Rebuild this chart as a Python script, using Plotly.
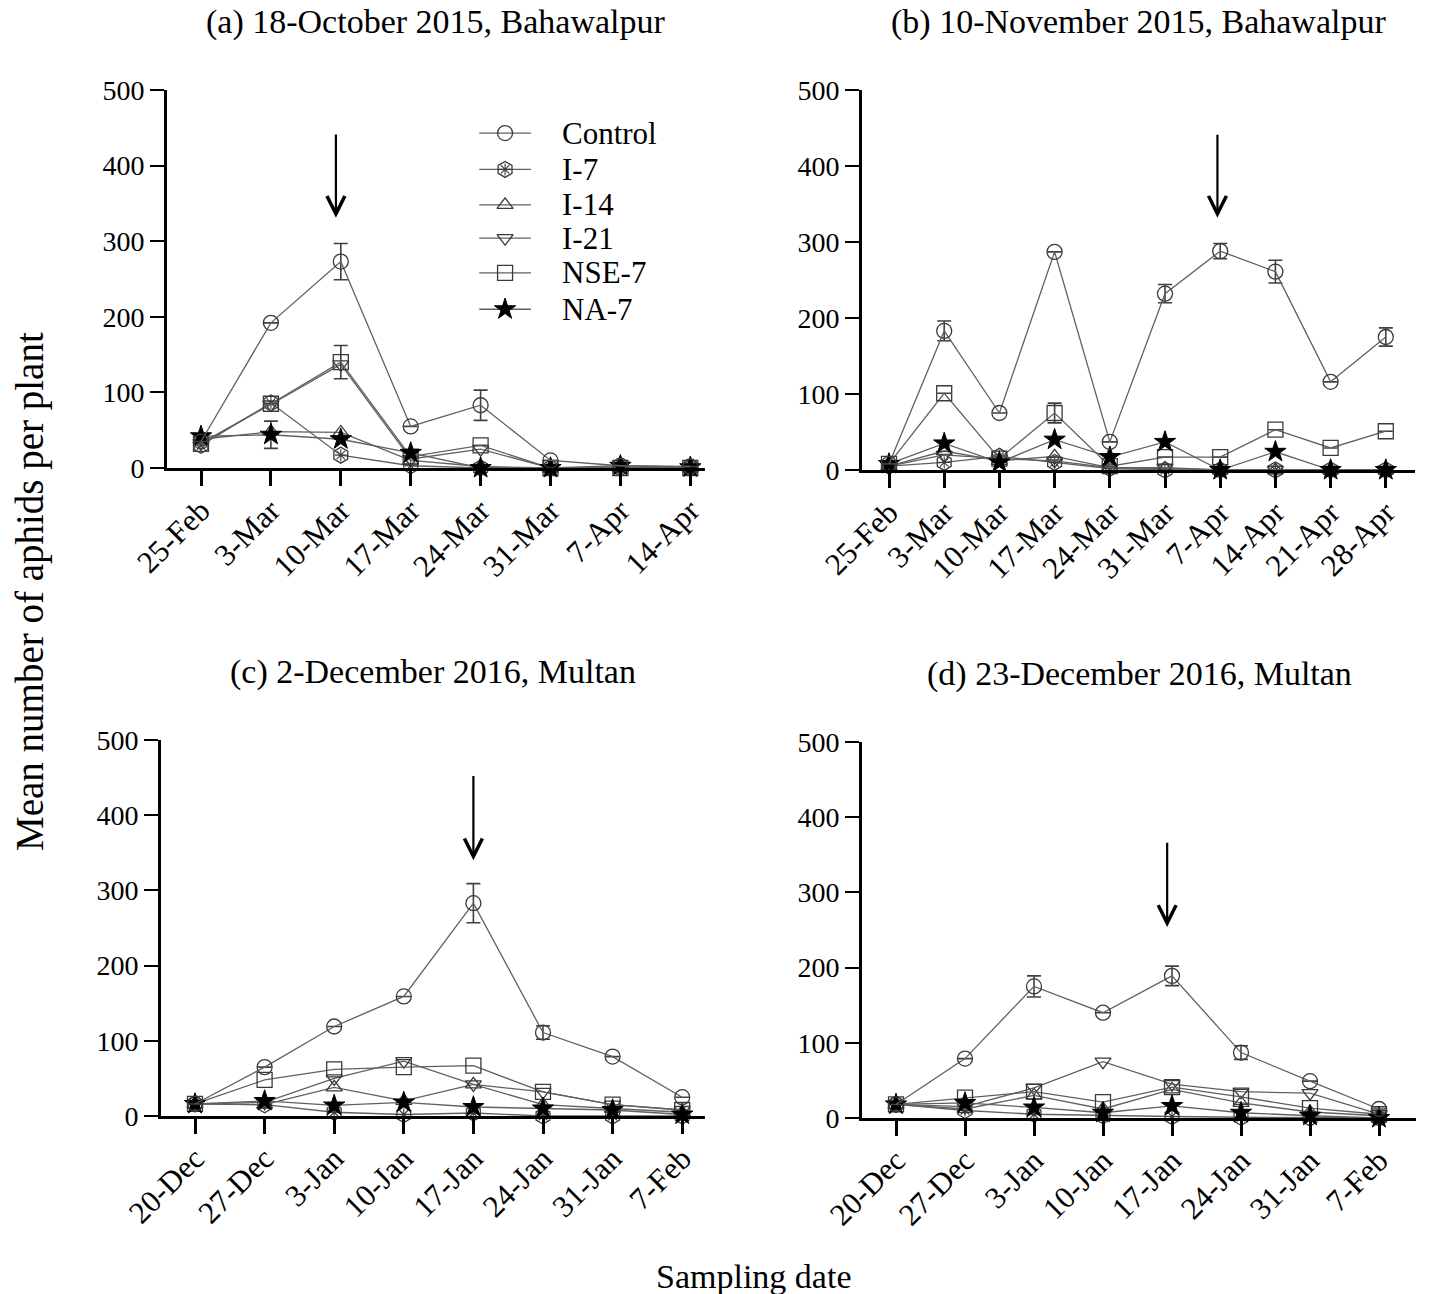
import plotly.graph_objects as go

W, H = 1430, 1294
FONT = "Liberation Serif"

# ---------------- data ----------------
treatments = ["Control", "I-7", "I-14", "I-21", "NSE-7", "NA-7"]

dates_a = ["25-Feb", "3-Mar", "10-Mar", "17-Mar", "24-Mar", "31-Mar", "7-Apr", "14-Apr"]
dates_b = ["25-Feb", "3-Mar", "10-Mar", "17-Mar", "24-Mar", "31-Mar", "7-Apr", "14-Apr", "21-Apr", "28-Apr"]
dates_cd = ["20-Dec", "27-Dec", "3-Jan", "10-Jan", "17-Jan", "24-Jan", "31-Jan", "7-Feb"]

# (a) 18-October 2015, Bahawalpur
a_control = [35, 192, 273, 55, 83, 10, 3, 2]
a_i7 = [30, 86, 17, 3, 0, 0, 0, 0]
a_i14 = [38, 48, 47, 10, 2, 0, 0, 0]
a_i21 = [33, 84, 137, 12, 25, 0, 0, 0]
a_nse7 = [32, 85, 140, 15, 30, 0, 0, 0]
a_na7 = [42, 44, 38, 20, 0, 0, 3, 1]
a_control_err = [None, None, 24, None, 20, None, None, None]
a_nse7_err = [None, None, 22, None, None, None, None, None]
a_na7_err = [None, 18, None, None, None, None, None, None]

# (b) 10-November 2015, Bahawalpur
b_control = [8, 183, 75, 287, 37, 232, 288, 261, 116, 175]
b_i7 = [5, 10, 18, 10, 2, 0, 0, 0, 0, 0]
b_i14 = [5, 25, 12, 18, 3, 2, 0, 0, 0, 0]
b_i21 = [5, 20, 15, 12, 3, 3, 0, 0, 0, 0]
b_nse7 = [8, 101, 15, 75, 5, 17, 17, 53, 29, 51]
b_na7 = [8, 35, 10, 40, 17, 37, 0, 24, 0, 0]
b_control_err = [None, 13, None, None, None, 12, 10, 15, None, 12]
b_nse7_err = [None, None, None, 13, None, None, None, None, None, None]

# (c) 2-December 2016, Multan
c_control = [16, 65, 119, 159, 283, 111, 79, 25]
c_i7 = [16, 15, 5, 2, 4, 0, 0, 0]
c_i14 = [16, 15, 38, 20, 42, 15, 10, 5]
c_i21 = [16, 18, 50, 73, 42, 32, 15, 8]
c_nse7 = [16, 48, 62, 65, 67, 32, 15, 8]
c_na7 = [16, 20, 14, 18, 12, 10, 8, 2]
c_control_err = [None, None, None, None, 26, 9, None, None]

# (d) 23-December 2016, Multan
d_control = [18, 79, 175, 140, 189, 87, 49, 12]
d_i7 = [18, 10, 5, 3, 2, 1, 0, 0]
d_i14 = [18, 12, 30, 12, 38, 20, 8, 3]
d_i21 = [18, 15, 40, 75, 45, 35, 33, 5]
d_nse7 = [18, 27, 35, 21, 41, 28, 13, 5]
d_na7 = [18, 20, 14, 7, 16, 7, 3, 0]
d_control_err = [None, None, 14, None, 13, 9, None, None]

y_ticks = [0, 100, 200, 300, 400, 500]

# ---------------- layout geometry (pixels) ----------------
def px(x):
    return x / W

def py(y):
    return 1 - y / H

panels = [
    dict(title="(a) 18-October 2015, Bahawalpur", dates=dates_a,
         series=[a_control, a_i7, a_i14, a_i21, a_nse7, a_na7],
         errs={0: a_control_err, 4: a_nse7_err, 5: a_na7_err},
         box=(167, 705, 90, 468), first=201, step=69.9, arrow=(1.93, 331, 443)),
    dict(title="(b) 10-November 2015, Bahawalpur", dates=dates_b,
         series=[b_control, b_i7, b_i14, b_i21, b_nse7, b_na7],
         errs={0: b_control_err, 4: b_nse7_err},
         box=(862, 1415, 90, 470), first=889, step=55.2, arrow=(5.95, 332, 443)),
    dict(title="(c) 2-December 2016, Multan", dates=dates_cd,
         series=[c_control, c_i7, c_i14, c_i21, c_nse7, c_na7],
         errs={0: c_control_err},
         box=(161, 705, 740, 1116), first=195, step=69.6, arrow=(4.0, 340, 454)),
    dict(title="(d) 23-December 2016, Multan", dates=dates_cd,
         series=[d_control, d_i7, d_i14, d_i21, d_nse7, d_na7],
         errs={0: d_control_err},
         box=(862, 1416, 742, 1118), first=896, step=69.0, arrow=(3.93, 254, 368)),
]

symbols = ["circle-open", "hexagon-open", "triangle-up-open", "triangle-down-open", "square-open", "star"]
sizes = [15, 16, 14, 14, 15, 16]
LINE_C = "#606060"
MARK_C = "#3a3a3a"


def marker_for(k):
    if symbols[k] == "star":
        return dict(symbol="star", size=sizes[k], color="black",
                    line=dict(color="black", width=1))
    return dict(symbol=symbols[k], size=sizes[k], color=MARK_C,
                line=dict(color=MARK_C, width=1.3))


INNER = dict(symbol="asterisk-open", size=10, color=MARK_C,
             line=dict(color=MARK_C, width=1.1))

fig = go.Figure()
annotations = []
layout_axes = {}

draw_order = [1, 2, 3, 4, 5, 0]

for i, p in enumerate(panels):
    n = "" if i == 0 else str(i + 1)
    xa, ya = "x" + n, "y" + n
    x0, x1, yt, yb = p["box"]
    idx = list(range(len(p["dates"])))
    rng_lo = (x0 - p["first"]) / p["step"]
    rng_hi = (x1 - p["first"]) / p["step"]
    layout_axes["xaxis" + n] = dict(
        domain=[px(x0), px(x1)], anchor=ya, automargin=False,
        tickvals=idx, ticktext=p["dates"],
        range=[rng_lo, rng_hi], showline=True, linecolor="black", linewidth=3,
        ticks="outside", ticklen=15, tickwidth=2.5, tickcolor="black",
        tickangle=-45, ticklabelstandoff=-6, showgrid=False, zeroline=False,
        tickfont=dict(family=FONT, size=31, color="black"))
    layout_axes["yaxis" + n] = dict(
        domain=[py(yb), py(yt)], anchor=xa, range=[0, 500], automargin=False,
        tickvals=y_ticks, showline=True, linecolor="black", linewidth=3,
        ticks="outside", ticklen=14, tickwidth=2, tickcolor="black",
        showgrid=False, zeroline=False,
        tickfont=dict(family=FONT, size=28, color="black"))

    for k in draw_order:
        vals = p["series"][k]
        err = p["errs"].get(k)
        tr = dict(
            x=idx, y=vals, mode="lines+markers", xaxis=xa, yaxis=ya,
            name=treatments[k], showlegend=False, cliponaxis=False,
            line=dict(color=LINE_C, width=1.3), marker=marker_for(k))
        if err is not None:
            tr["error_y"] = dict(type="data", array=err, visible=True,
                                 color="#404040", thickness=1.6, width=7)
        fig.add_trace(go.Scatter(**tr))
        if k == 1:
            fig.add_trace(go.Scatter(
                x=idx, y=vals, mode="markers", xaxis=xa, yaxis=ya,
                showlegend=False, cliponaxis=False, hoverinfo="skip",
                marker=INNER))

    # panel title
    annotations.append(dict(
        text=p["title"], xref="paper", yref="paper",
        x=px((x0 + x1) / 2), y=py(yt - 68), xanchor="center", yanchor="middle",
        showarrow=False, font=dict(family=FONT, size=34, color="black")))

    # arrow marking application
    ax_i, head_v, tail_v = p["arrow"]
    annotations.append(dict(
        x=ax_i, y=head_v, ax=ax_i, ay=tail_v, xref=xa, yref=ya,
        axref=xa, ayref=ya, text="", showarrow=True, arrowhead=5,
        arrowsize=1.6, arrowwidth=2.2, arrowcolor="black"))

# ---------------- legend (drawn in panel a) ----------------
leg_rows = [443, 395, 348, 304, 258, 210]
leg_x = [3.98, 4.35, 4.72]
for k, ly in enumerate(leg_rows):
    fig.add_trace(go.Scatter(
        x=[leg_x[0], leg_x[2]], y=[ly, ly], mode="lines", xaxis="x", yaxis="y",
        showlegend=False, hoverinfo="skip", line=dict(color=LINE_C, width=1.3)))
    fig.add_trace(go.Scatter(
        x=[leg_x[1]], y=[ly], mode="markers", xaxis="x", yaxis="y",
        showlegend=False, hoverinfo="skip", marker=marker_for(k)))
    if k == 1:
        fig.add_trace(go.Scatter(
            x=[leg_x[1]], y=[ly], mode="markers", xaxis="x", yaxis="y",
            showlegend=False, hoverinfo="skip", marker=INNER))
    annotations.append(dict(
        text=treatments[k], xref="x", yref="y", x=5.13, y=ly,
        xanchor="left", yanchor="middle", showarrow=False,
        font=dict(family=FONT, size=31, color="black")))

# shared axis titles
annotations.append(dict(
    text="Mean number of aphids per plant", xref="paper", yref="paper",
    x=px(30), y=py(592), xanchor="center", yanchor="middle", textangle=-90,
    showarrow=False, font=dict(family=FONT, size=39, color="black")))
annotations.append(dict(
    text="Sampling date", xref="paper", yref="paper",
    x=px(753), y=py(1276), xanchor="center", yanchor="middle",
    showarrow=False, font=dict(family=FONT, size=34, color="black")))

fig.update_layout(
    width=W, height=H, margin=dict(l=0, r=0, t=0, b=0, autoexpand=False),
    paper_bgcolor="white", plot_bgcolor="white", template="none",
    showlegend=False, annotations=annotations, **layout_axes)

fig.write_html("out.html")
